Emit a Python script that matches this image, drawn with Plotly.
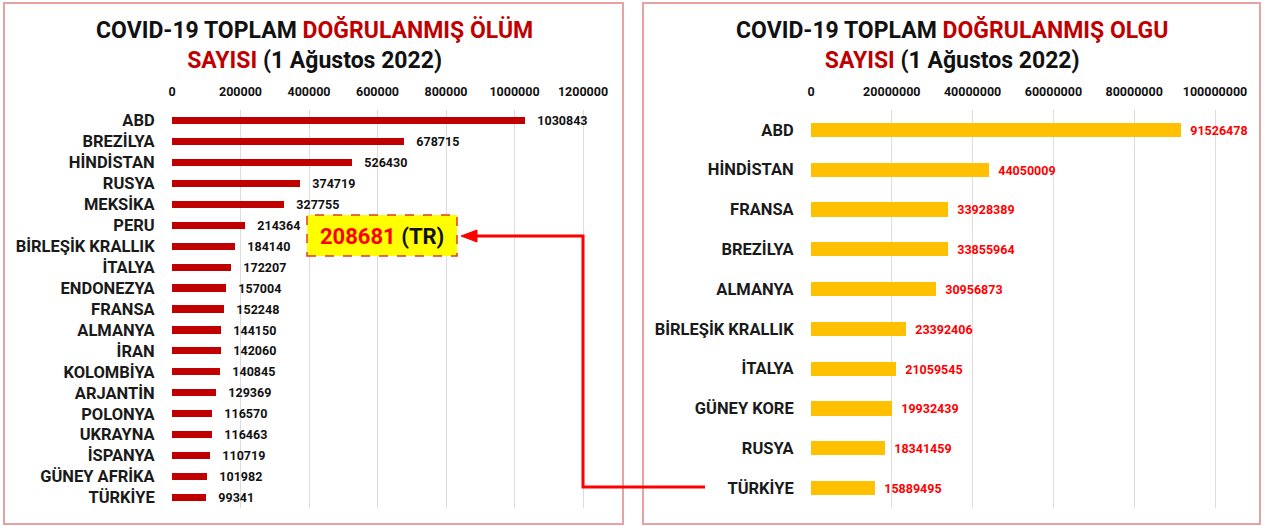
import plotly.graph_objects as go

W, H = 1263, 526

# ---------------- data ----------------
death_countries = ["ABD", "BREZİLYA", "HİNDİSTAN", "RUSYA", "MEKSİKA", "PERU",
                   "BİRLEŞİK KRALLIK", "İTALYA", "ENDONEZYA", "FRANSA", "ALMANYA",
                   "İRAN", "KOLOMBİYA", "ARJANTİN", "POLONYA", "UKRAYNA",
                   "İSPANYA", "GÜNEY AFRİKA", "TÜRKİYE"]
death_values = [1030843, 678715, 526430, 374719, 327755, 214364, 184140, 172207,
                157004, 152248, 144150, 142060, 140845, 129369, 116570, 116463,
                110719, 101982, 99341]
death_tickvals = [0, 200000, 400000, 600000, 800000, 1000000, 1200000]
death_ticktext = ["0", "200000", "400000", "600000", "800000", "1000000", "1200000"]

case_countries = ["ABD", "HİNDİSTAN", "FRANSA", "BREZİLYA", "ALMANYA",
                  "BİRLEŞİK KRALLIK", "İTALYA", "GÜNEY KORE", "RUSYA", "TÜRKİYE"]
case_values = [91526478, 44050009, 33928389, 33855964, 30956873, 23392406,
               21059545, 19932439, 18341459, 15889495]
case_tickvals = [0, 20000000, 40000000, 60000000, 80000000, 100000000]
case_ticktext = ["0", "20000000", "40000000", "60000000", "80000000", "100000000"]

tr_deaths_callout = 208681

# ---------------- helpers ----------------
def px(x):
    return x / W

def py(y):
    return 1 - y / H

FONT = "Roboto"
DARK_RED = "#c00000"
GOLD = "#ffc000"
RED = "#ff0000"
GRID = "#dcdcdc"
BORDER = "#e8a2a2"

NB = "\u00a0"

fig = go.Figure()

fig.add_trace(go.Bar(
    x=death_values, y=death_countries, orientation="h",
    marker=dict(color=DARK_RED, line=dict(width=0)), width=0.34,
    text=[NB * 3 + str(v) for v in death_values], textposition="outside",
    constraintext="none", cliponaxis=False,
    textfont=dict(family=FONT, size=12.5, color="#111111", weight="bold"),
    xaxis="x", yaxis="y", hoverinfo="x+y",
))

fig.add_trace(go.Bar(
    x=case_values, y=case_countries, orientation="h",
    marker=dict(color=GOLD, line=dict(width=0)), width=0.36,
    text=[NB * 2 + str(v) for v in case_values], textposition="outside",
    constraintext="none", cliponaxis=False,
    textfont=dict(family=FONT, size=12.5, color=RED, weight="bold"),
    xaxis="x2", yaxis="y2", hoverinfo="x+y",
))

# left axis geometry: 0 at 172px, 200000 per 68.5px
l_end = 1205000
l_dom = [px(172), px(172 + l_end / 200000 * 68.5)]
# right axis: 0 at 811px, 20M per 80.8px
r_end = 100800000
r_dom = [px(811), px(811 + r_end / 20000000 * 80.8)]
y_dom = [py(508), py(110)]

tickfont = dict(family=FONT, size=12.5, color="#111111", weight="bold")
catfont = dict(family=FONT, size=16.5, color="#1a1a1a", weight="bold")

common_x = dict(side="top", showgrid=True, gridcolor=GRID, gridwidth=1,
                zeroline=False, showline=False, ticks="outside", ticklen=8,
                tickcolor="rgba(0,0,0,0)", tickfont=tickfont, fixedrange=True,
                automargin=False)
common_y = dict(showgrid=False, zeroline=False, showline=False, ticks="outside",
                ticklen=13, tickcolor="rgba(0,0,0,0)", tickfont=catfont,
                autorange="reversed", type="category", fixedrange=True,
                automargin=False)

fig.update_layout(
    width=W, height=H, autosize=False,
    margin=dict(l=0, r=0, t=0, b=0, pad=0, autoexpand=False),
    paper_bgcolor="white", plot_bgcolor="white", showlegend=False,
    bargap=0,
    xaxis=dict(domain=l_dom, range=[0, l_end], anchor="y",
               tickvals=death_tickvals, ticktext=death_ticktext, **common_x),
    yaxis=dict(domain=y_dom, anchor="x", **common_y),
    xaxis2=dict(domain=r_dom, range=[0, r_end], anchor="y2",
                tickvals=case_tickvals, ticktext=case_ticktext, **common_x),
    yaxis2=dict(domain=y_dom, anchor="x2", **common_y),
)

shapes = []
# panel borders
shapes.append(dict(type="rect", xref="paper", yref="paper",
                   x0=px(4), x1=px(623), y0=py(524), y1=py(3),
                   line=dict(color=BORDER, width=2), layer="above"))
shapes.append(dict(type="rect", xref="paper", yref="paper",
                   x0=px(643), x1=px(1260), y0=py(524), y1=py(3),
                   line=dict(color=BORDER, width=2), layer="above"))
# callout box
shapes.append(dict(type="rect", xref="paper", yref="paper",
                   x0=px(307), x1=px(457), y0=py(256), y1=py(215),
                   fillcolor="#ffff00", line=dict(color="#e03a2a", width=1.5, dash="dash"),
                   layer="above"))
# arrow line
path = "M {},{} L {},{} L {},{} L {},{}".format(
    px(705), py(487), px(583), py(487), px(583), py(236), px(474), py(236))
shapes.append(dict(type="path", xref="paper", yref="paper", path=path,
                   line=dict(color=RED, width=3), layer="above"))
head = "M {},{} L {},{} L {},{} Z".format(
    px(461), py(236), px(477), py(230), px(477), py(242))
shapes.append(dict(type="path", xref="paper", yref="paper", path=head,
                   fillcolor=RED, line=dict(color=RED, width=1), layer="above"))
fig.update_layout(shapes=shapes)

title_font = dict(family=FONT, size=23, color="#111111", weight="bold")
annotations = [
    dict(xref="paper", yref="paper", x=px(314), y=py(45), xanchor="center", yanchor="middle",
         showarrow=False, align="center", font=title_font,
         text=("COVID-19 TOPLAM <span style='color:%s'>DOĞRULANMIŞ ÖLÜM</span><br>"
               "<span style='color:%s'>SAYISI</span> (1 Ağustos 2022)") % (DARK_RED, DARK_RED)),
    dict(xref="paper", yref="paper", x=px(952), y=py(45), xanchor="center", yanchor="middle",
         showarrow=False, align="center", font=title_font,
         text=("COVID-19 TOPLAM <span style='color:%s'>DOĞRULANMIŞ OLGU</span><br>"
               "<span style='color:%s'>SAYISI</span> (1 Ağustos 2022)") % (DARK_RED, DARK_RED)),
    dict(xref="paper", yref="paper", x=px(382), y=py(236), xanchor="center", yanchor="middle",
         showarrow=False, font=dict(family=FONT, size=22, color="#111111", weight="bold"),
         text="<span style='color:%s'>%d</span> (TR)" % (RED, tr_deaths_callout)),
]
fig.update_layout(annotations=annotations)

fig.write_html("out.html", config={"responsive": False})
